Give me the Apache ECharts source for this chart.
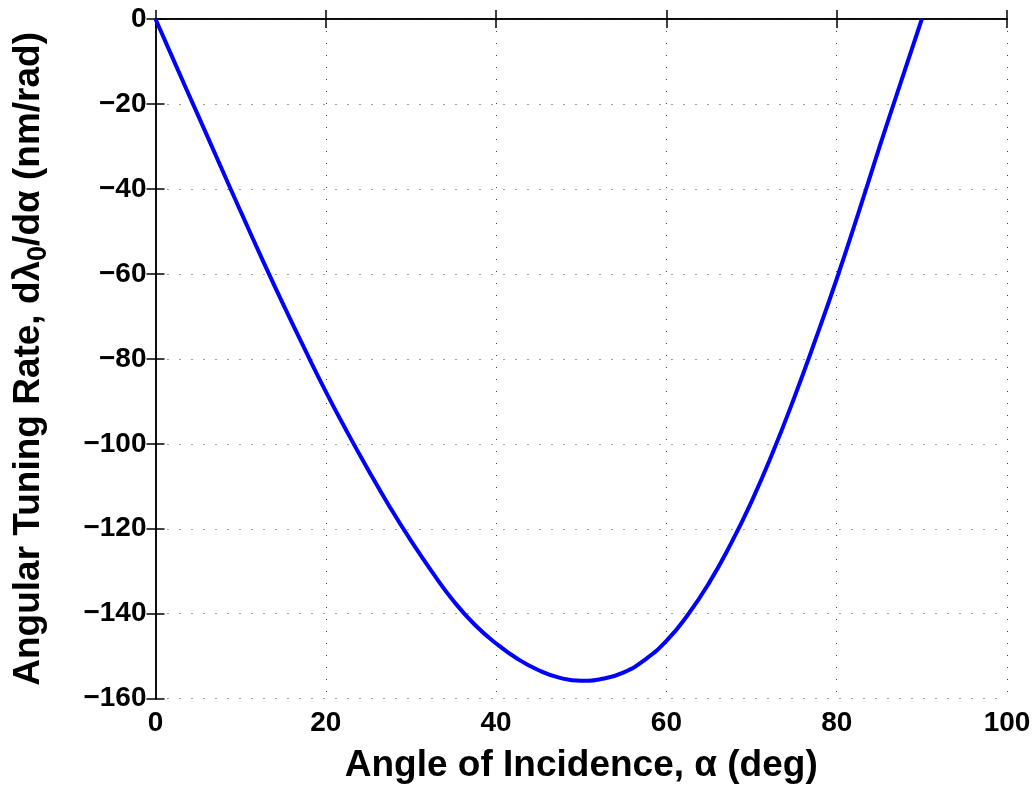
<!DOCTYPE html>
<html>
<head>
<meta charset="utf-8">
<script src="https://cdn.jsdelivr.net/npm/echarts@6/dist/echarts.min.js"></script>
<style>html,body{margin:0;padding:0;background:#fff}#c{width:1036px;height:785px}</style>
</head>
<body>
<div id="c"></div>
<script>
// Angle of incidence (deg)
var alphaDeg = [0, 2.5, 5, 7.5, 10, 12.5, 15, 17.5, 20, 22.5, 25, 27.5, 30, 32.5, 35, 37.5, 40, 42.5, 45, 47.5,
                50, 52.5, 55, 57.5, 60, 62.5, 65, 67.5, 70, 72.5, 75, 77.5, 80, 82.5, 85, 87.5, 90];
// Angular tuning rate (nm/rad)
var tuningRate = [0, -11.4, -22.7, -34, -45.3, -56.4, -67.2, -77.6, -87.7, -97.2, -106.2, -114.8, -122.8, -130.2, -137, -142.6, -147, -150.6, -153.3, -155.1,
                  -155.8, -155.3, -153.8, -150.8, -146.4, -140.3, -132.8, -123.8, -113.6, -102, -89.2, -75.5, -61.2, -46, -30.3, -15.1, 0];
var xTicks = [0, 20, 40, 60, 80, 100];
var yTicks = [0, -20, -40, -60, -80, -100, -120, -140, -160];

var FONT = '"Liberation Sans", Arial, Helvetica, sans-serif';
var pts = alphaDeg.map(function (a, i) { return [a, tuningRate[i]]; });
function fmt(v) { return String(v).replace('-', '\u2212'); }

var chart = echarts.init(document.getElementById('c'), null, {renderer: 'canvas'});
var axisLine = {show: true, lineStyle: {color: '#000', width: 1.5}};
var grid = {type: [1, 11], color: '#444', width: 1};
var tick = {show: true, inside: true, length: 9, lineStyle: {color: '#000', width: 1.5}};
chart.setOption({
  animation: false,
  backgroundColor: '#fff',
  grid: {left: 155.5, right: 29, top: 19, bottom: 86.3, containLabel: false, outerBoundsMode: 'none'},
  xAxis: [{
    type: 'value', min: xTicks[0], max: xTicks[xTicks.length - 1], interval: 20,
    position: 'bottom',
    axisLine: axisLine, axisTick: tick,
    axisLabel: {color: '#000', fontFamily: FONT, fontWeight: 'bold', fontSize: 28, margin: 11, formatter: fmt},
    splitLine: {show: true, lineStyle: grid},
    name: 'Angle of Incidence, \u03b1 (deg)', nameLocation: 'middle', nameGap: 49,
    nameTextStyle: {color: '#000', fontFamily: FONT, fontWeight: 'bold', fontSize: 37}
  }, {
    type: 'value', min: 0, max: 100, interval: 20, position: 'top',
    axisLine: axisLine, axisTick: tick,
    axisLabel: {show: false}, splitLine: {show: false}
  }],
  yAxis: [{
    type: 'value', min: yTicks[yTicks.length - 1], max: yTicks[0], interval: 20,
    position: 'left',
    axisLine: axisLine, axisTick: tick,
    axisLabel: {color: '#000', fontFamily: FONT, fontWeight: 'bold', fontSize: 28, margin: 9, formatter: fmt},
    splitLine: {show: true, lineStyle: grid},
    name: '{t|Angular Tuning Rate, d\u03bb}{s|0}{t|/d\u03b1 (nm/rad)}',
    nameLocation: 'middle', nameGap: 104, nameRotate: 90,
    nameTextStyle: {
      color: '#000', fontFamily: FONT, fontWeight: 'bold', fontSize: 37,
      rich: {
        t: {color: '#000', fontFamily: FONT, fontWeight: 'bold', fontSize: 37, lineHeight: 46, verticalAlign: 'middle'},
        s: {color: '#000', fontFamily: FONT, fontWeight: 'bold', fontSize: 27, lineHeight: 46, padding: [21, 0, 0, 0], verticalAlign: 'middle'}
      }
    }
  }, {
    type: 'value', min: -160, max: 0, interval: 20, position: 'right',
    axisLine: axisLine, axisTick: tick,
    axisLabel: {show: false}, splitLine: {show: false}
  }],
  series: [{
    type: 'line', data: pts, xAxisIndex: 0, yAxisIndex: 0,
    smooth: true, showSymbol: false, symbol: 'none',
    lineStyle: {color: '#0000ff', width: 4}
  }]
});
</script>
</body>
</html>
